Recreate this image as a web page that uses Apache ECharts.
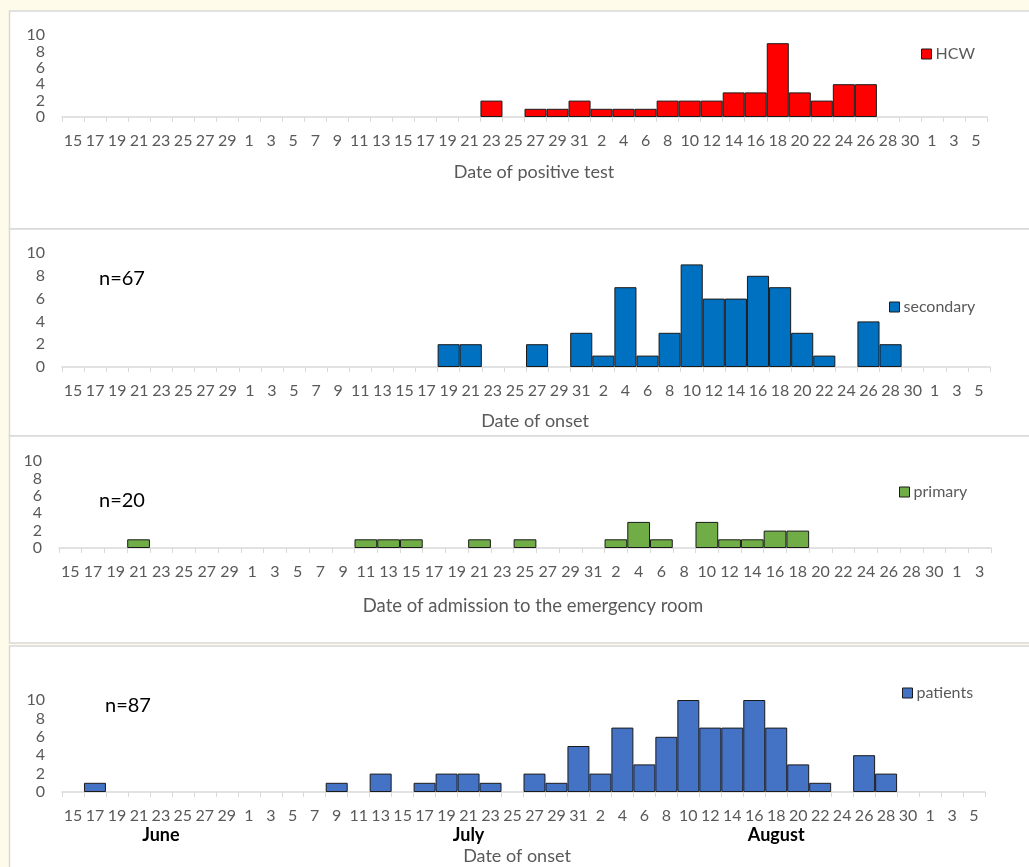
<!DOCTYPE html>
<html>
<head>
<meta charset="utf-8">
<script src="https://cdn.jsdelivr.net/npm/echarts@6/dist/echarts.min.js"></script>
<style>
  html, body { margin: 0; padding: 0; background: #fffbea; }
  #chart { width: 1029px; height: 867px; }
</style>
</head>
<body>
<div id="chart"></div>
<script>
// two-day bins, 15 June to 5 September
var days = ['15','17','19','21','23','25','27','29',
  '1','3','5','7','9','11','13','15','17','19','21','23','25','27','29','31',
  '2','4','6','8','10','12','14','16','18','20','22','24','26','28','30',
  '1','3','5'];
// emergency room panel stops at 3 September
var daysAdmission = days.slice(0, 41);

var hcw = [0,0,0,0,0,0,0,0, 0,0,0,0,0,0,0,0,0,0,0,2,0,1,1,2,
  1,1,1,2,2,2,3,3,9,3,2,4,4,0,0, 0,0,0];
var secondary = [0,0,0,0,0,0,0,0, 0,0,0,0,0,0,0,0,0,2,2,0,0,2,0,3,
  1,7,1,3,9,6,6,8,7,3,1,0,4,2,0, 0,0,0];
var primary = [0,0,0,1,0,0,0,0, 0,0,0,0,0,1,1,1,0,0,1,0,1,0,0,0,
  1,3,1,0,3,1,1,2,2,0,0,0,0,0,0, 0,0];
var patients = [0,1,0,0,0,0,0,0, 0,0,0,0,1,0,2,0,1,2,2,1,0,2,1,5,
  2,7,3,6,10,7,7,10,7,3,1,0,4,2,0, 0,0,0];

var months = ['June', 'July', 'August'];
var monthAt = [4, 18, 32];

var monthRow = days.map(function () { return ''; });
for (var m = 0; m < months.length; m++) monthRow[monthAt[m]] = months[m];

var grey = '#595959';
var font = 'Lato, "Open Sans", sans-serif';

function noZero(arr) {
  return arr.map(function (v) { return v === 0 ? null : v; });
}

var grids = [
  { left: 62, top: 35, width: 925, height: 82 },
  { left: 62, top: 253, width: 928, height: 114 },
  { left: 59, top: 461, width: 932, height: 87 },
  { left: 62, top: 700, width: 923, height: 92 }
];

function xAxisFor(i, data, name, gap, pad, size) {
  return {
    type: 'category', gridIndex: i, data: data,
    axisLine: { lineStyle: { color: '#d9d9d9', width: 1.5 } },
    axisTick: { show: true, length: 5, lineStyle: { color: '#d9d9d9' } },
    axisLabel: { interval: 0, color: grey, fontSize: 16, fontFamily: font, margin: 16 },
    name: name, nameLocation: 'middle', nameGap: gap,
    nameTextStyle: { color: grey, fontSize: size, fontFamily: font, padding: pad }
  };
}

function yAxisFor(i) {
  return {
    type: 'value', gridIndex: i, min: 0, max: 10, interval: 2,
    axisLine: { show: false }, axisTick: { show: false }, splitLine: { show: false },
    axisLabel: { color: grey, fontSize: 16, fontFamily: font, margin: 17 }
  };
}

function barSeries(name, i, data, color) {
  return {
    name: name, type: 'bar', xAxisIndex: i, yAxisIndex: i,
    data: noZero(data), barCategoryGap: '0%',
    itemStyle: { color: color, borderColor: '#1a1a1a', borderWidth: 1 }
  };
}

function legendFor(name, left, top) {
  return {
    data: [name], left: left, top: top, padding: 0,
    itemWidth: 10, itemHeight: 10, itemGap: 4,
    icon: 'rect',
    itemStyle: { borderColor: '#1a1a1a', borderWidth: 1 },
    textStyle: { color: grey, fontSize: 16, fontFamily: font, padding: [0, 0, 0, -1] }
  };
}

function panel(y, h) {
  return { type: 'rect', z: -10, shape: { x: 9.5, y: y, width: 1030, height: h },
    style: { fill: '#ffffff', stroke: '#d9d9d9', lineWidth: 1.5 } };
}

function nText(str, x, y) {
  return { type: 'text', x: x, y: y, z: 10,
    style: { text: str, fill: '#000', font: '20px ' + font, textVerticalAlign: 'middle' } };
}

var chart = echarts.init(document.getElementById('chart'));
chart.setOption({
  animation: false,
  grid: grids,
  xAxis: [
    xAxisFor(0, days, 'Date of positive test', 46, [0, 0, 0, 19], 18),
    xAxisFor(1, days, 'Date of onset', 45, [0, 0, 0, 18], 18),
    xAxisFor(2, daysAdmission, 'Date of admission to the emergency room', 49, [0, 0, 0, 16], 18.5),
    xAxisFor(3, days, 'Date of onset', 55, [0, 13, 0, 0], 18),
    {
      type: 'category', gridIndex: 3, data: monthRow, position: 'bottom',
      axisLine: { show: false }, axisTick: { show: false },
      axisLabel: { interval: 0, color: '#000', fontSize: 18, fontWeight: 'bold', fontFamily: font, margin: 34 }
    }
  ],
  yAxis: [yAxisFor(0), yAxisFor(1), yAxisFor(2), yAxisFor(3)],
  legend: [
    legendFor('HCW', 921, 46),
    legendFor('secondary', 889, 299),
    legendFor('primary', 899, 484),
    legendFor('patients', 902, 685)
  ],
  series: [
    barSeries('HCW', 0, hcw, '#ff0000'),
    barSeries('secondary', 1, secondary, '#0070c0'),
    barSeries('primary', 2, primary, '#70ad47'),
    barSeries('patients', 3, patients, '#4472c4')
  ],
  graphic: [
    panel(11, 218),
    panel(229, 207),
    panel(436, 207),
    panel(646, 230),
    nText('n=67', 99, 279),
    nText('n=20', 99, 501),
    nText('n=87', 105, 706)
  ]
});
</script>
</body>
</html>
